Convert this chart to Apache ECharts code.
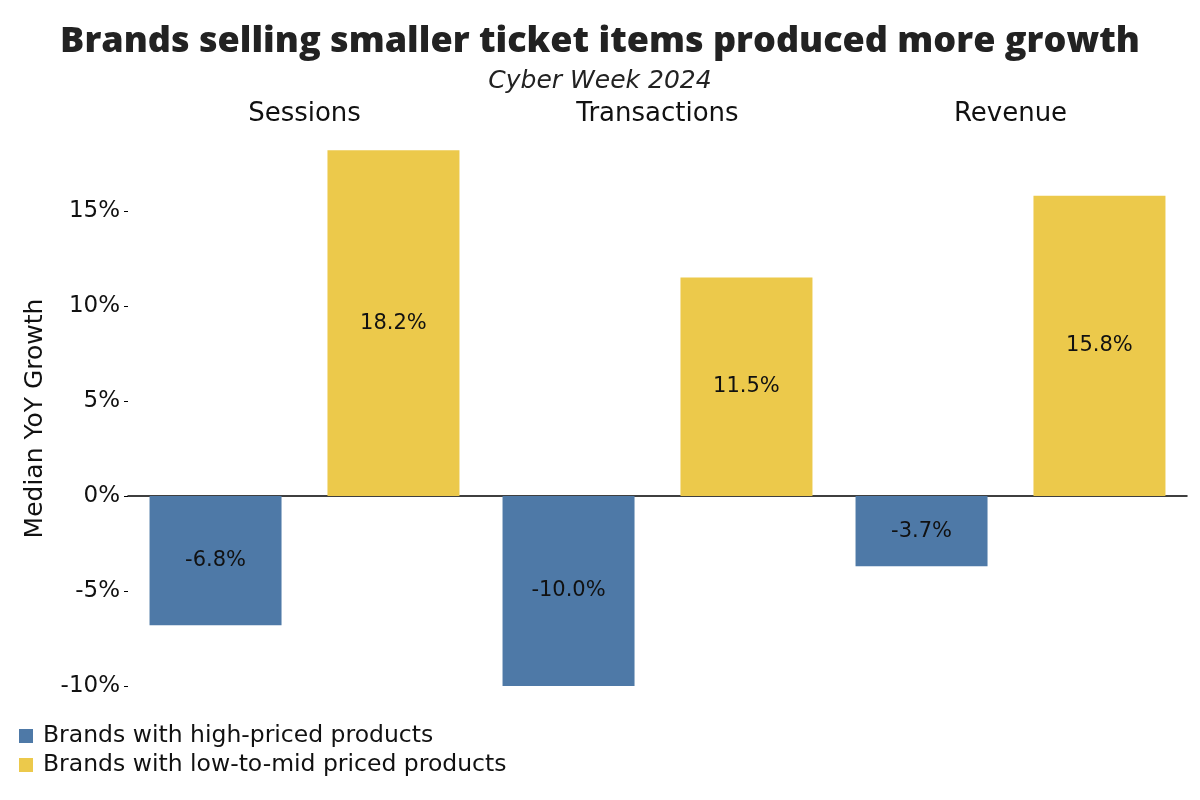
<!DOCTYPE html>
<html><head><meta charset="utf-8">
<script src="https://cdn.jsdelivr.net/npm/echarts@6/dist/echarts.min.js"></script>
<style>html,body{margin:0;padding:0;background:#fff}#c{width:1200px;height:800px}</style>
</head><body><div id="c"></div>
<script>
const categories = ['Sessions', 'Transactions', 'Revenue'];
const seriesNames = ['Brands with high-priced products', 'Brands with low-to-mid priced products'];
const highPriced = [-6.8, -10.0, -3.7];
const lowMidPriced = [18.2, 11.5, 15.8];
const yTicks = [-10, -5, 0, 5, 10, 15];
const colors = ['#4e79a7', '#ecc94b'];
const FONT = '"DejaVu Sans", sans-serif';
const TFONT = '"Open Sans", sans-serif';

const chart = echarts.init(document.getElementById('c'), null, {renderer: 'canvas'});
const labelCfg = {
  show: true, position: 'inside', color: '#111', fontSize: 21, fontFamily: FONT,
  formatter: p => p.value.toFixed(1) + '%'
};
chart.setOption({
  animation: false,
  textStyle: {fontFamily: FONT},
  title: [
    {text: 'Brands selling smaller ticket items produced more growth', left: 'center', top: 19,
     textStyle: {fontSize: 36, fontWeight: 800, color: '#222', fontFamily: TFONT}},
    {text: 'Cyber Week 2024', left: 'center', top: 64,
     textStyle: {fontSize: 25, fontStyle: 'italic', fontWeight: 'normal', color: '#222', fontFamily: FONT}}
  ],
  legend: {
    orient: 'vertical', left: 19, top: 724, itemWidth: 14, itemHeight: 14, itemGap: 5,
    padding: 0, icon: 'rect',
    textStyle: {fontSize: 23.5, color: '#111', fontFamily: FONT, padding: [0, 0, 0, 5]},
    data: seriesNames
  },
  grid: {left: 128, right: 13, top: 135, bottom: 114, containLabel: false},
  xAxis: {
    type: 'category', data: categories, position: 'top',
    axisLine: {onZero: true, lineStyle: {color: '#000', width: 1.5}},
    axisTick: {show: false},
    axisLabel: {show: true, color: '#111', fontSize: 26, fontFamily: FONT, margin: 8}
  },
  yAxis: {
    type: 'value', min: -10, max: 19, interval: 5,
    name: 'Median YoY Growth', nameLocation: 'middle', nameGap: 80,
    nameTextStyle: {fontSize: 25, color: '#111', fontFamily: FONT, padding: [0, 16, 0, 0]},
    axisLine: {show: false},
    splitLine: {show: false},
    axisTick: {show: true, length: 4, customValues: yTicks, lineStyle: {color: '#000'}},
    axisLabel: {fontSize: 23, color: '#111', fontFamily: FONT, margin: 8, customValues: yTicks,
      formatter: v => v + '%'}
  },
  series: [
    {name: seriesNames[0], type: 'bar', data: highPriced, barWidth: 132, barGap: '34.8%',
     itemStyle: {color: colors[0]}, label: labelCfg},
    {name: seriesNames[1], type: 'bar', data: lowMidPriced, barWidth: 132,
     itemStyle: {color: colors[1]}, label: labelCfg}
  ]
});
</script></body></html>
